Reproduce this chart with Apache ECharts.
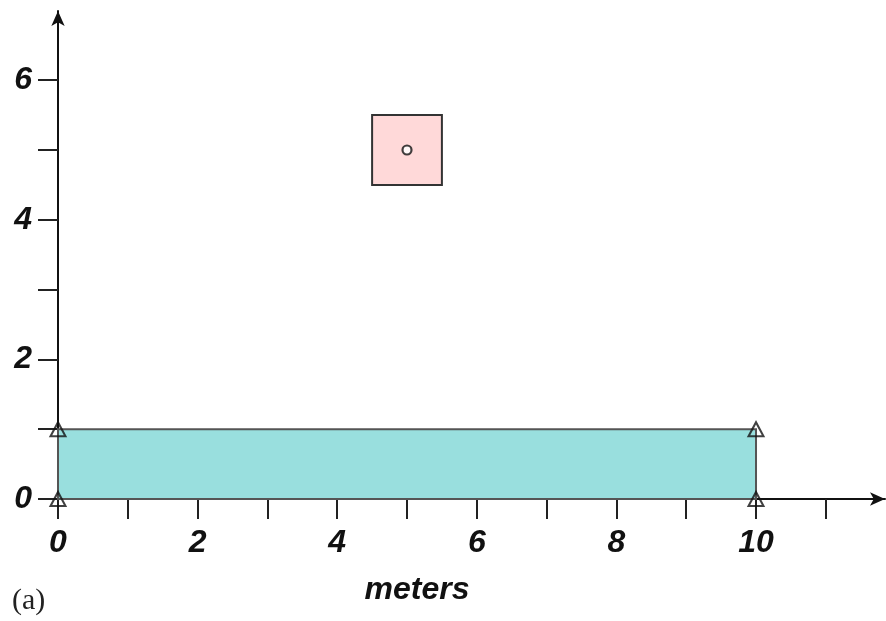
<!DOCTYPE html>
<html>
<head>
<meta charset="utf-8">
<script src="https://cdn.jsdelivr.net/npm/echarts@6/dist/echarts.min.js"></script>
<style>
html,body{margin:0;padding:0;background:#fff;}
#chart{width:886px;height:621px;}
</style>
</head>
<body>
<div id="chart"></div>
<script>
// Data
const xTicks = [0,1,2,3,4,5,6,7,8,9,10,11];
const xLabels = [0,2,4,6,8,10];
const yTicks = [0,1,2,3,4,5,6];
const yLabels = [0,2,4,6];
const slabRect = [[0, 0, 10, 1]];          // [x0, y0, x1, y1]
const sourceRect = [[4.5, 4.5, 5.5, 5.5]]; // [x0, y0, x1, y1]
const sourcePoint = [[5, 5]];
const nodePoints = [[0, 0], [0, 1], [10, 0], [10, 1]];
const xName = 'meters';
const panelLabel = '(a)';

const chart = echarts.init(document.getElementById('chart'), null, {renderer: 'canvas'});

function rectRender(fill, stroke, lw) {
  return function (params, api) {
    const p0 = api.coord([api.value(0), api.value(1)]);
    const p1 = api.coord([api.value(2), api.value(3)]);
    return {
      type: 'rect',
      shape: {
        x: Math.min(p0[0], p1[0]),
        y: Math.min(p0[1], p1[1]),
        width: Math.abs(p1[0] - p0[0]),
        height: Math.abs(p1[1] - p0[1])
      },
      style: {fill: fill, stroke: stroke, lineWidth: lw}
    };
  };
}

const labelFont = {
  fontFamily: 'Liberation Sans, Arial, sans-serif',
  fontWeight: 'bold',
  fontStyle: 'italic',
  fontSize: 32,
  color: '#111'
};

const option = {
  animation: false,
  backgroundColor: '#fff',
  grid: {left: 58, right: 1, top: 11, bottom: 122, containLabel: false},
  xAxis: {
    type: 'value',
    min: 0,
    max: 11.848,
    interval: 1,
    splitLine: {show: false},
    axisLine: {
      show: true, onZero: false,
      lineStyle: {color: '#111', width: 2},
      symbol: ['none', 'arrow'],
      symbolSize: [10, 15]
    },
    axisTick: {
      show: true, length: 20,
      customValues: xTicks,
      lineStyle: {color: '#222', width: 2}
    },
    axisLabel: Object.assign({
      customValues: xLabels,
      margin: 28
    }, labelFont)
  },
  yAxis: {
    type: 'value',
    min: 0,
    max: 6.991,
    interval: 1,
    splitLine: {show: false},
    axisLine: {
      show: true, onZero: false,
      lineStyle: {color: '#111', width: 2},
      symbol: ['none', 'arrow'],
      symbolSize: [10, 15]
    },
    axisTick: {
      show: true, length: 20,
      customValues: yTicks,
      lineStyle: {color: '#222', width: 2}
    },
    axisLabel: Object.assign({
      customValues: yLabels,
      margin: 26
    }, labelFont)
  },
  graphic: [
    {
      type: 'text',
      style: {
        text: xName, x: 417, y: 590, align: 'center', verticalAlign: 'middle',
        font: 'italic bold 32px "Liberation Sans", Arial, sans-serif', fill: '#111'
      }
    },
    {
      type: 'text',
      style: {
        text: panelLabel, x: 12, y: 601, align: 'left', verticalAlign: 'middle',
        font: '30px "Liberation Serif", "Times New Roman", serif', fill: '#222'
      }
    }
  ],
  series: [
    {
      type: 'custom',
      data: slabRect,
      renderItem: rectRender('#99DFDE', '#555', 2),
      z: 1
    },
    {
      type: 'custom',
      data: sourceRect,
      renderItem: rectRender('#FFD9D9', '#333', 2),
      z: 2
    },
    {
      type: 'scatter',
      data: sourcePoint,
      symbol: 'circle',
      symbolSize: 9,
      itemStyle: {color: '#fff', borderColor: '#111', borderWidth: 2.2},
      z: 3
    },
    {
      type: 'scatter',
      data: nodePoints,
      symbol: 'triangle',
      symbolSize: [15, 14],
      itemStyle: {color: 'rgba(0,0,0,0)', borderColor: '#111', borderWidth: 2},
      z: 4
    }
  ]
};
chart.setOption(option);
</script>
</body>
</html>
